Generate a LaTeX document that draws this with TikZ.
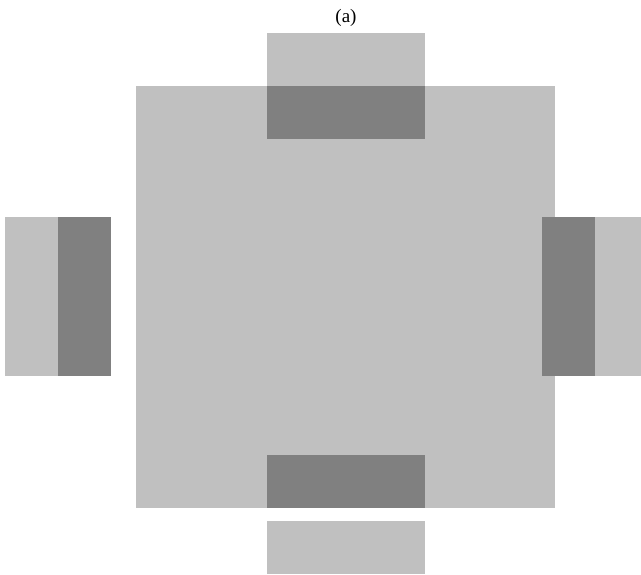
\documentclass[tikz,border=0pt]{standalone}
\usepackage{fontspec}
\setmainfont{Liberation Serif}
\definecolor{lightg}{HTML}{C0C0C0}
\definecolor{darkg}{HTML}{808080}
\begin{document}
\begin{tikzpicture}[x=1pt,y=-1pt,
  lightbox/.style={fill=lightg,draw=none},
  darkbox/.style={fill=darkg,draw=none}]
\useasboundingbox (0,0) rectangle (641,574);
% central square
\fill[lightbox] (136,86) rectangle (555,508);
% top
\fill[lightbox] (267,33) rectangle (425,86);
\fill[darkbox] (267,86) rectangle (425,139);
% left
\fill[lightbox] (5,217) rectangle (58,376);
\fill[darkbox] (58,217) rectangle (111,376);
% right
\fill[darkbox] (542,217) rectangle (595,376);
\fill[lightbox] (595,217) rectangle (641,376);
% bottom
\fill[darkbox] (267,455) rectangle (425,508);
\fill[lightbox] (267,521) rectangle (425,574);
% label
\node[anchor=base,font=\fontsize{19}{22}\selectfont,inner sep=0pt] (lbl) at (346,22) {(a)};
\end{tikzpicture}
\end{document}
